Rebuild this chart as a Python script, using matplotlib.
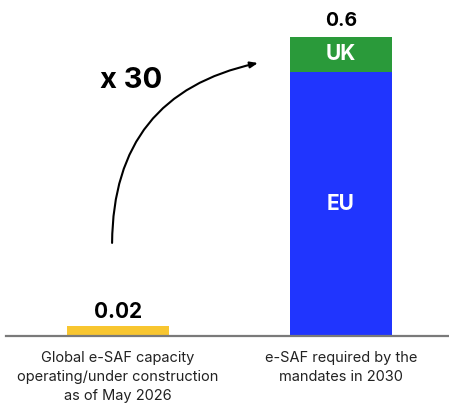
import matplotlib
matplotlib.use("Agg")
import matplotlib.pyplot as plt

plt.rcParams["font.family"] = ["Inter", "DejaVu Sans"]

# Data (Mt of e-SAF)
categories = [
    "Global e-SAF capacity\noperating/under construction\nas of May 2026",
    "e-SAF required by the\nmandates in 2030",
]
capacity_2026 = [0.02, 0.0]
eu_required = [0.0, 0.53]
uk_required = [0.0, 0.07]
total_labels = ["0.02", "0.6"]
growth_label = "x 30"

YELLOW = "#F8C630"
BLUE = "#2035FE"
GREEN = "#2A9A3A"

fig = plt.figure(figsize=(4.49, 4.08), dpi=100)
ax = fig.add_axes([6 / 449, 72 / 408, 442 / 449, 336 / 408])

x = list(range(len(categories)))
width = 0.457

ax.bar(x[0], capacity_2026[0], width=width, color=YELLOW)
ax.bar(x[1], eu_required[1], width=width, color=BLUE)
ax.bar(x[1], uk_required[1], width=width, bottom=eu_required[1], color=GREEN)

# Segment labels inside the stacked bar
ax.text(x[1], eu_required[1] / 2, "EU", ha="center", va="center",
        color="white", fontsize=15, fontweight="bold")
ax.text(x[1], eu_required[1] + uk_required[1] / 2, "UK", ha="center", va="center",
        color="white", fontsize=15, fontweight="bold")

# Totals above bars
totals = [capacity_2026[0], eu_required[1] + uk_required[1]]
offsets = [6, 8]
sizes = [15, 14]
for xi, tot, lab, off, fs in zip(x, totals, total_labels, offsets, sizes):
    ax.annotate(lab, xy=(xi, tot), xytext=(0, off), textcoords="offset points",
                ha="center", va="baseline", fontsize=fs, fontweight="bold",
                color="black")

# Growth arrow
ax.annotate("", xy=(0.570, 0.8125), xytext=(0.240, 0.277),
            xycoords="axes fraction", textcoords="axes fraction",
            arrowprops=dict(arrowstyle="-|>,head_length=0.45,head_width=0.18",
                            color="black", lw=1.5, shrinkA=0, shrinkB=0,
                            connectionstyle="arc3,rad=-0.4"))
ax.text(0.2127, 0.738, growth_label, transform=ax.transAxes, ha="left",
        va="baseline", fontsize=21, fontweight="bold", color="black")

ax.set_xlim(-0.502, 1.480)
ax.set_ylim(0, 0.674)

for side in ("top", "right", "left"):
    ax.spines[side].set_visible(False)
ax.spines["bottom"].set_color("#7a7a7a")
ax.spines["bottom"].set_linewidth(1.6)

ax.set_yticks([])
ax.set_xticks(x)
ax.set_xticklabels(categories, fontsize=10.5, color="#222222", linespacing=1.45)
ax.tick_params(axis="x", length=0, pad=11)

fig.savefig("out.png", dpi=100)
